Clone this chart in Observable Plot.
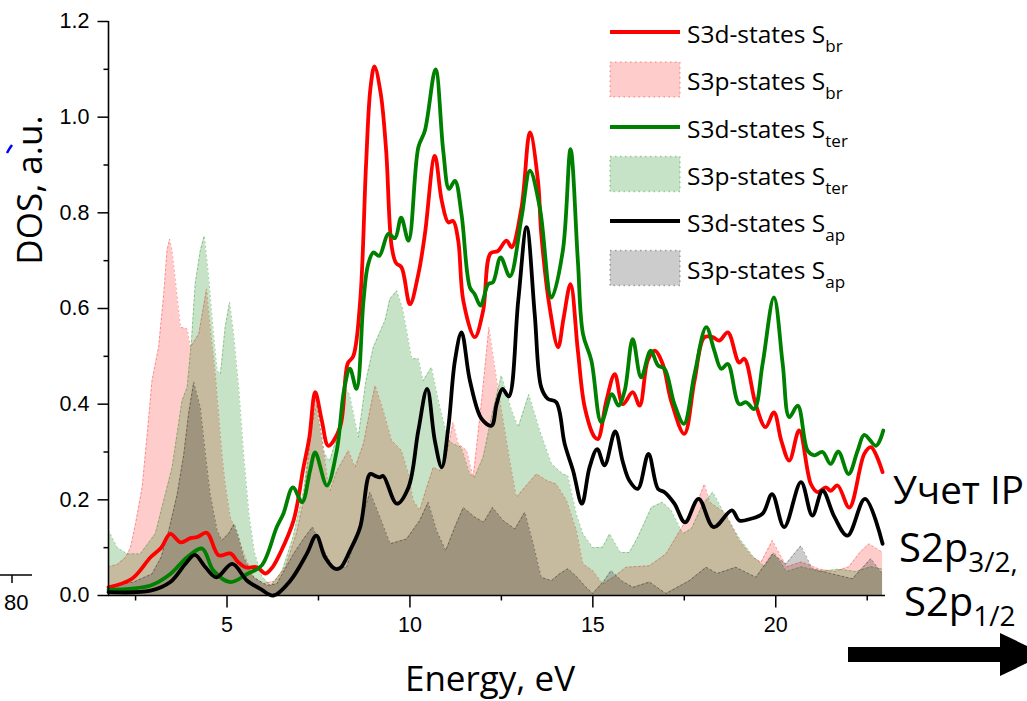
<!DOCTYPE html>
<html>
<head>
<meta charset="utf-8">
<script src="https://cdn.jsdelivr.net/npm/d3@7"></script>
<script src="https://cdn.jsdelivr.net/npm/@observablehq/plot@0.6"></script>
<style>
  html, body { margin: 0; padding: 0; background: #fff; }
  #wrap { position: relative; width: 1027px; height: 701px; overflow: hidden; }
  #wrap svg { position: absolute; left: 0; top: 0; }
</style>
</head>
<body>
<div id="wrap"></div>
<script>
// Energy (eV) and DOS (a.u.) pairs for each sulfur site
const s3dBr = [[1.76,0.017],[2.4,0.035],[2.91,0.08],[3.2,0.1],[3.45,0.129],[3.73,0.111],[4.0,0.12],[4.18,0.122],[4.45,0.131],[4.77,0.084],[5.09,0.088],[5.3,0.07],[5.5,0.059],[5.82,0.059],[6.05,0.046],[6.25,0.06],[6.45,0.088],[6.82,0.157],[7.09,0.268],[7.25,0.33],[7.41,0.425],[7.59,0.366],[7.77,0.313],[8.09,0.352],[8.3,0.485],[8.45,0.5],[8.64,0.616],[8.8,0.9],[8.92,1.06],[9.03,1.106],[9.2,1.05],[9.35,0.93],[9.5,0.73],[9.62,0.695],[9.77,0.686],[10.0,0.609],[10.23,0.672],[10.41,0.756],[10.68,0.919],[10.87,0.825],[11.05,0.78],[11.18,0.783],[11.32,0.742],[11.46,0.616],[11.77,0.54],[12.0,0.595],[12.2,0.715],[12.4,0.72],[12.64,0.742],[12.78,0.728],[13.05,0.811],[13.28,0.968],[13.5,0.867],[13.59,0.756],[13.82,0.602],[14.05,0.519],[14.2,0.58],[14.39,0.651],[14.59,0.512],[14.78,0.393],[15.05,0.331],[15.14,0.327],[15.37,0.407],[15.6,0.463],[15.82,0.40],[16.09,0.425],[16.28,0.397],[16.5,0.491],[16.69,0.512],[16.91,0.484],[17.14,0.407],[17.5,0.338],[17.78,0.449],[18.05,0.54],[18.28,0.54],[18.46,0.533],[18.69,0.55],[19.0,0.487],[19.14,0.495],[19.45,0.40],[19.72,0.352],[19.95,0.383],[20.15,0.324],[20.37,0.282],[20.64,0.345],[20.96,0.233],[21.14,0.216],[21.37,0.226],[21.5,0.219],[21.69,0.23],[22.01,0.184],[22.42,0.296],[22.6,0.31],[22.92,0.258]];

const s3dTer = [[1.76,0.012],[2.91,0.021],[3.45,0.045],[3.91,0.08],[4.32,0.098],[4.63,0.052],[5.09,0.028],[5.55,0.045],[5.95,0.063],[6.36,0.143],[6.54,0.171],[6.8,0.226],[7.05,0.195],[7.27,0.261],[7.41,0.299],[7.73,0.23],[8.0,0.303],[8.2,0.43],[8.36,0.474],[8.54,0.432],[8.73,0.616],[8.85,0.69],[9.0,0.717],[9.16,0.71],[9.41,0.756],[9.59,0.747],[9.76,0.79],[9.96,0.742],[10.23,0.937],[10.41,0.972],[10.7,1.10],[10.91,0.93],[11.07,0.85],[11.23,0.867],[11.41,0.797],[11.64,0.644],[11.77,0.63],[11.93,0.606],[12.14,0.651],[12.27,0.655],[12.48,0.707],[12.73,0.667],[13.05,0.79],[13.28,0.888],[13.55,0.811],[13.87,0.623],[14.18,0.721],[14.39,0.933],[14.59,0.70],[14.73,0.547],[14.96,0.491],[15.23,0.362],[15.52,0.421],[15.7,0.397],[15.87,0.428],[16.09,0.536],[16.32,0.456],[16.58,0.512],[16.78,0.481],[16.96,0.474],[17.23,0.40],[17.49,0.359],[17.78,0.463],[18.1,0.561],[18.32,0.512],[18.51,0.474],[18.69,0.484],[19.0,0.40],[19.19,0.404],[19.41,0.39],[19.64,0.484],[19.95,0.623],[20.19,0.484],[20.37,0.373],[20.6,0.397],[20.87,0.303],[21.05,0.293],[21.28,0.30],[21.5,0.275],[21.71,0.301],[21.99,0.254],[22.24,0.303],[22.42,0.336],[22.74,0.313],[22.94,0.345]];

const s3dAp = [[1.76,0.007],[2.91,0.010],[3.45,0.028],[3.86,0.066],[4.12,0.085],[4.41,0.059],[4.71,0.038],[5.14,0.066],[5.55,0.031],[5.91,0.014],[6.27,0.0],[6.73,0.031],[7.18,0.087],[7.44,0.125],[7.68,0.08],[7.95,0.056],[8.1,0.058],[8.36,0.094],[8.64,0.143],[8.91,0.254],[9.05,0.25],[9.18,0.247],[9.27,0.25],[9.64,0.192],[9.96,0.226],[10.23,0.345],[10.47,0.432],[10.68,0.324],[10.87,0.268],[11.05,0.352],[11.23,0.491],[11.41,0.55],[11.64,0.449],[11.96,0.369],[12.23,0.355],[12.37,0.40],[12.53,0.432],[12.7,0.416],[12.96,0.616],[13.19,0.77],[13.41,0.589],[13.59,0.435],[13.77,0.411],[14.0,0.404],[14.23,0.317],[14.46,0.261],[14.7,0.192],[14.91,0.268],[15.12,0.306],[15.32,0.272],[15.61,0.343],[15.82,0.279],[16.0,0.24],[16.23,0.223],[16.52,0.296],[16.78,0.223],[16.96,0.216],[17.23,0.192],[17.52,0.153],[17.89,0.202],[18.3,0.143],[18.8,0.178],[19.0,0.157],[19.3,0.16],[19.64,0.171],[19.9,0.212],[20.23,0.143],[20.69,0.237],[21.0,0.167],[21.28,0.219],[21.6,0.165],[21.96,0.125],[22.44,0.202],[22.92,0.108]];

const s3pBr = [[1.76,0.06],[2.0,0.065],[2.23,0.08],[2.36,0.1],[2.5,0.15],[2.68,0.226],[2.82,0.338],[2.95,0.449],[3.13,0.519],[3.27,0.63],[3.36,0.721],[3.43,0.745],[3.5,0.72],[3.59,0.658],[3.73,0.561],[3.91,0.557],[4.0,0.519],[4.23,0.547],[4.44,0.641],[4.54,0.56],[4.68,0.463],[4.77,0.38],[4.86,0.296],[4.95,0.233],[5.09,0.164],[5.27,0.129],[5.5,0.08],[5.73,0.038],[6.0,0.025],[6.3,0.03],[6.6,0.06],[6.9,0.13],[7.1,0.2],[7.3,0.34],[7.42,0.41],[7.6,0.33],[7.75,0.24],[7.82,0.219],[8.0,0.26],[8.32,0.303],[8.5,0.268],[8.73,0.317],[8.96,0.407],[9.05,0.439],[9.27,0.387],[9.5,0.324],[9.77,0.303],[9.96,0.254],[10.09,0.199],[10.27,0.178],[10.46,0.226],[10.64,0.268],[10.82,0.261],[11.05,0.31],[11.18,0.362],[11.32,0.317],[11.55,0.303],[11.73,0.247],[11.96,0.407],[12.16,0.561],[12.32,0.477],[12.46,0.407],[12.73,0.282],[12.91,0.205],[13.14,0.226],[13.46,0.254],[13.75,0.24],[14.0,0.233],[14.28,0.199],[14.55,0.136],[14.73,0.066],[15.0,0.052],[15.27,0.024],[15.6,0.04],[15.91,0.059],[16.55,0.062],[17.0,0.087],[17.55,0.157],[17.91,0.205],[18.05,0.233],[18.2,0.195],[18.64,0.171],[19.0,0.115],[19.37,0.08],[19.6,0.07],[19.91,0.115],[20.3,0.06],[20.7,0.07],[21.2,0.055],[21.6,0.05],[22.0,0.06],[22.3,0.09],[22.55,0.108],[22.92,0.09]];

const s3pTer = [[1.76,0.136],[2.0,0.1],[2.27,0.087],[2.63,0.087],[3.04,0.129],[3.5,0.268],[3.77,0.407],[3.91,0.435],[4.03,0.533],[4.13,0.651],[4.27,0.721],[4.38,0.752],[4.5,0.665],[4.63,0.547],[4.73,0.47],[4.82,0.463],[4.95,0.561],[5.07,0.613],[5.18,0.547],[5.32,0.435],[5.45,0.3],[5.6,0.17],[5.75,0.09],[5.95,0.04],[6.2,0.02],[6.5,0.05],[6.8,0.12],[7.1,0.22],[7.3,0.35],[7.45,0.40],[7.65,0.3],[7.8,0.28],[8.0,0.33],[8.23,0.435],[8.35,0.42],[8.59,0.331],[8.8,0.45],[9.0,0.519],[9.32,0.575],[9.45,0.62],[9.64,0.637],[9.8,0.6],[10.05,0.495],[10.23,0.495],[10.36,0.449],[10.59,0.477],[10.82,0.393],[11.05,0.324],[11.18,0.317],[11.4,0.31],[11.64,0.254],[11.77,0.247],[12.0,0.289],[12.27,0.387],[12.5,0.46],[12.78,0.387],[12.96,0.352],[13.25,0.42],[13.55,0.345],[13.87,0.275],[14.18,0.254],[14.32,0.25],[14.55,0.17],[14.73,0.129],[15.0,0.1],[15.27,0.101],[15.46,0.129],[15.75,0.09],[16.0,0.09],[16.23,0.122],[16.6,0.184],[16.9,0.195],[17.14,0.178],[17.46,0.129],[17.7,0.14],[18.0,0.19],[18.28,0.216],[18.6,0.171],[19.0,0.12],[19.4,0.08],[19.7,0.06],[19.95,0.09],[20.3,0.05],[20.7,0.06],[21.2,0.05],[21.7,0.055],[22.2,0.05],[22.6,0.06],[22.92,0.055]];

const s3pAp = [[1.76,0.02],[2.45,0.028],[2.95,0.045],[3.2,0.08],[3.41,0.136],[3.64,0.212],[3.82,0.296],[3.95,0.38],[4.09,0.446],[4.27,0.393],[4.41,0.296],[4.54,0.212],[4.73,0.136],[4.86,0.115],[5.05,0.13],[5.2,0.15],[5.32,0.122],[5.45,0.08],[5.73,0.038],[6.09,0.021],[6.36,0.024],[6.82,0.087],[7.09,0.118],[7.34,0.143],[7.6,0.1],[7.91,0.059],[8.27,0.059],[8.55,0.129],[8.91,0.216],[9.18,0.164],[9.46,0.108],[9.91,0.118],[10.27,0.157],[10.5,0.195],[10.73,0.136],[10.98,0.094],[11.23,0.143],[11.46,0.184],[11.77,0.164],[12.02,0.153],[12.26,0.184],[12.55,0.157],[12.87,0.139],[13.14,0.174],[13.37,0.108],[13.59,0.038],[13.87,0.031],[14.09,0.045],[14.32,0.056],[14.55,0.04],[14.82,0.017],[15.0,0.004],[15.3,0.03],[15.5,0.052],[15.8,0.03],[16.1,0.017],[16.55,0.028],[17.0,0.004],[17.64,0.031],[18.1,0.059],[18.4,0.046],[18.91,0.059],[19.46,0.038],[19.91,0.087],[20.28,0.066],[20.69,0.104],[21.0,0.056],[21.55,0.045],[22.1,0.035],[22.6,0.077],[22.92,0.045]];

const yMajor = [0, 0.2, 0.4, 0.6, 0.8, 1.0, 1.2];
const yMinor = [0.1, 0.3, 0.5, 0.7, 0.9, 1.1];
const xMajor = [5, 10, 15, 20];
const xMinor = [2.5, 7.5, 12.5, 17.5, 22.5];

const legendLabels = [
  ["S3d-states S", "br"], ["S3p-states S", "br"],
  ["S3d-states S", "ter"], ["S3p-states S", "ter"],
  ["S3d-states S", "ap"], ["S3p-states S", "ap"]
];

const toRows = (arr) => arr.map(([e, v]) => ({e, v}));
const xMin = 1.76, xMax = 23.0;

const areas = [
  {data: toRows(s3pBr), fill: "#ff0000", op: 0.2},
  {data: toRows(s3pTer), fill: "#008000", op: 0.22},
  {data: toRows(s3pAp), fill: "#000000", op: 0.2}
];
const lines = [
  {data: toRows(s3dBr), stroke: "#ff0000"},
  {data: toRows(s3dTer), stroke: "#008000"},
  {data: toRows(s3dAp), stroke: "#000000"}
];

// outward tick marks drawn as short strokes from the anchor point
const tickSymbol = (dx, dy) => ({draw(ctx) { ctx.moveTo(0, 0); ctx.lineTo(dx, dy); }});

const marks = [];
for (const a of areas) {
  marks.push(Plot.areaY(a.data, {x: "e", y: "v", fill: a.fill, fillOpacity: a.op, curve: "linear"}));
  marks.push(Plot.line(a.data, {x: "e", y: "v", stroke: a.fill, strokeOpacity: 0.35, strokeWidth: 1, strokeDasharray: "1.5,3", curve: "linear"}));
}
for (const l of lines) {
  marks.push(Plot.line(l.data, {x: "e", y: "v", stroke: l.stroke, strokeWidth: 3.8, curve: "catmull-rom"}));
}
marks.push(
  // axis lines
  Plot.ruleX([xMin], {stroke: "black", strokeWidth: 1.6}),
  Plot.ruleY([0], {stroke: "black", strokeWidth: 1.6}),
  // y ticks and labels
  Plot.dot(yMajor, {x: () => xMin, y: d => d, symbol: tickSymbol(-11, 0), stroke: "black", strokeWidth: 1.5, fill: "none"}),
  Plot.dot(yMinor, {x: () => xMin, y: d => d, symbol: tickSymbol(-5, 0), stroke: "black", strokeWidth: 1.5, fill: "none"}),
  Plot.text(yMajor, {x: () => xMin, y: d => d, text: d => d3.format(".1f")(d), textAnchor: "end", dx: -19, lineAnchor: "middle", fontSize: 21.5}),
  // x ticks and labels
  Plot.dot(xMajor, {x: d => d, y: () => 0, symbol: tickSymbol(0, 12), stroke: "black", strokeWidth: 1.5, fill: "none"}),
  Plot.dot(xMinor, {x: d => d, y: () => 0, symbol: tickSymbol(0, 5), stroke: "black", strokeWidth: 1.5, fill: "none"}),
  Plot.text(xMajor, {x: d => d, y: () => 0, text: d => String(d), dy: 30, lineAnchor: "middle", fontSize: 21.5})
);

const chart = Plot.plot({
  width: 1027,
  height: 701,
  marginLeft: 108,
  marginRight: 142,
  marginTop: 21,
  marginBottom: 106,
  x: {domain: [xMin, xMax], axis: null},
  y: {domain: [0, 1.2], axis: null},
  style: {fontFamily: "'Liberation Sans', Arial, sans-serif", fontSize: "21.5px", color: "black", background: "transparent", overflow: "visible"},
  marks
});
const wrap = document.getElementById("wrap");
wrap.appendChild(chart);

// Overlay: axis titles, legend, annotation and arrow
const ov = d3.select(wrap).append("svg")
  .attr("width", 1027).attr("height", 701)
  .style("font-family", "'Open Sans', sans-serif");

ov.append("text")
  .attr("transform", "translate(42,190) rotate(-90)")
  .attr("text-anchor", "middle")
  .attr("font-size", 35).text("DOS, a.u.");
ov.append("text")
  .attr("x", 490).attr("y", 691)
  .attr("text-anchor", "middle")
  .attr("font-size", 35).text("Energy, eV");

// legend
const swatch = [
  {type: "line", color: "#ff0000"}, {type: "box", color: "#ff0000", op: 0.2},
  {type: "line", color: "#008000"}, {type: "box", color: "#008000", op: 0.22},
  {type: "line", color: "#000000"}, {type: "box", color: "#000000", op: 0.2}
];
const rowY = [32, 79.5, 127, 174, 221, 268];
swatch.forEach((s, i) => {
  const cy = rowY[i];
  if (s.type === "line") {
    ov.append("line").attr("x1", 610).attr("x2", 680).attr("y1", cy).attr("y2", cy)
      .attr("stroke", s.color).attr("stroke-width", 4);
  } else {
    ov.append("rect").attr("x", 610).attr("y", cy - 17.5).attr("width", 70).attr("height", 35)
      .attr("fill", s.color).attr("fill-opacity", s.op)
      .attr("stroke", s.color).attr("stroke-opacity", s.op * 1.6)
      .attr("stroke-width", 1.5).attr("stroke-dasharray", "1.5,3.5");
  }
  const t = ov.append("text").attr("x", 687).attr("y", cy + 10.5).attr("font-size", 24.5);
  t.append("tspan").text(legendLabels[i][0]);
  t.append("tspan").attr("dy", 9).attr("font-size", 17).text(legendLabels[i][1]);
});

// annotation on the right
ov.append("text").attr("x", 893).attr("y", 504).attr("font-size", 38.5).text("Учет IP");
const t2 = ov.append("text").attr("x", 899).attr("y", 562).attr("font-size", 40);
t2.append("tspan").text("S2p");
t2.append("tspan").attr("dy", 10).attr("font-size", 28).text("3/2,");
const t3 = ov.append("text").attr("x", 904).attr("y", 616).attr("font-size", 40);
t3.append("tspan").text("S2p");
t3.append("tspan").attr("dy", 10).attr("font-size", 28).text("1/2");

// arrow
ov.append("path")
  .attr("d", "M848,647 L1000,647 L1000,633 L1045,654.5 L1000,676 L1000,662 L848,662 Z")
  .attr("fill", "black");

// fragments at the left edge
ov.append("path").attr("d", "M7,153 Q9,149 12,145").attr("stroke", "blue").attr("stroke-width", 2.5).attr("fill", "none");
ov.append("line").attr("x1", 0).attr("x2", 32).attr("y1", 575).attr("y2", 575).attr("stroke", "black").attr("stroke-width", 1.5);
ov.append("line").attr("x1", 12).attr("x2", 12).attr("y1", 575).attr("y2", 583).attr("stroke", "black").attr("stroke-width", 1.5);
ov.append("text").attr("x", 4).attr("y", 610).attr("font-family", "'Liberation Sans', Arial, sans-serif").attr("font-size", 22).text("80");
</script>
</body>
</html>
